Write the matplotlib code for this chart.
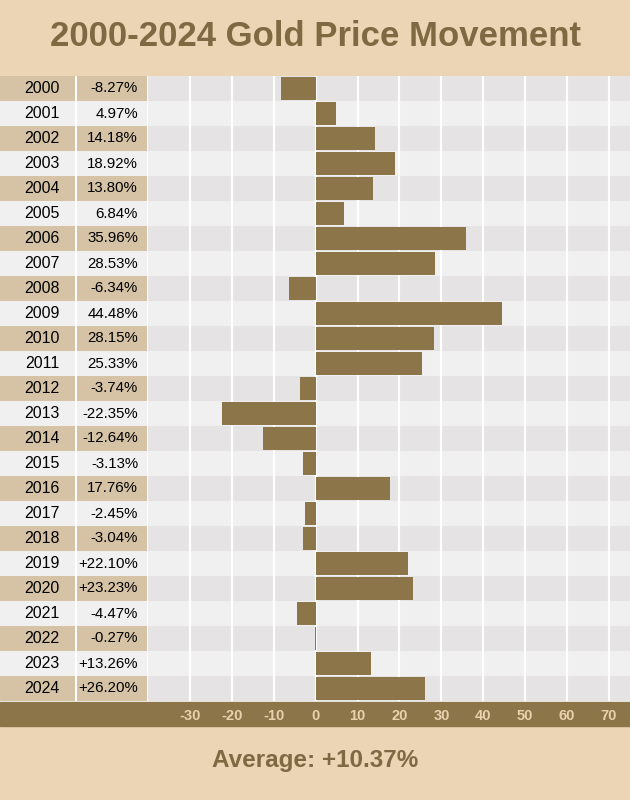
import matplotlib

matplotlib.use("Agg")
import matplotlib.pyplot as plt
from matplotlib.patches import Rectangle

years = list(range(2000, 2025))
changes = [-8.27, 4.97, 14.18, 18.92, 13.80, 6.84, 35.96, 28.53, -6.34, 44.48,
           28.15, 25.33, -3.74, -22.35, -12.64, -3.13, 17.76, -2.45, -3.04, 22.10,
           23.23, -4.47, -0.27, 13.26, 26.20]
change_labels = ["-8.27%", "4.97%", "14.18%", "18.92%", "13.80%", "6.84%", "35.96%",
                 "28.53%", "-6.34%", "44.48%", "28.15%", "25.33%", "-3.74%", "-22.35%",
                 "-12.64%", "-3.13%", "17.76%", "-2.45%", "-3.04%", "+22.10%", "+23.23%",
                 "-4.47%", "-0.27%", "+13.26%", "+26.20%"]
xticks = [-30, -20, -10, 0, 10, 20, 30, 40, 50, 60, 70]
average_label = "Average: +10.37%"

GOLD = "#8b7549"
TITLE_COL = "#7d6a43"
HEADER_BG = "#ecd5b5"
CELL_TAN = "#d6c3a6"
LIGHT = "#f0f0f0"
STRIPE = "#e5e3e4"

plt.rcParams["font.family"] = ["Liberation Sans", "DejaVu Sans"]
plt.rcParams["axes.unicode_minus"] = False

W, H = 630, 800
fig = plt.figure(figsize=(W / 100, H / 100), dpi=100, facecolor="white")


def px(x0, y0, x1, y1):
    # pixel box (top-left origin) -> figure fraction rect
    return [x0 / W, 1 - y1 / H, (x1 - x0) / W, (y1 - y0) / H]


# header / footer / axis band (behind the axes)
for y0, y1, col in [(0, 75, HEADER_BG), (727, 800, HEADER_BG), (702, 726, GOLD)]:
    b = px(0, y0, W, y1)
    fig.patches.append(Rectangle((b[0], b[1]), b[2], b[3], transform=fig.transFigure,
                                 color=col, zorder=-5))

fig.text(0.5, 1 - 37 / H, "2000-2024 Gold Price Movement", ha="center", va="center",
         fontsize=25, fontweight="bold", color=TITLE_COL)
fig.text(0.5, 1 - 760 / H, average_label, ha="center", va="center",
         fontsize=17.5, fontweight="bold", color=TITLE_COL)

n = len(years)
rows = list(range(n))

# table on the left
tax = fig.add_axes(px(0, 76, 148, 701))
tax.set_xlim(0, 148)
tax.set_ylim(n - 0.5, -0.5)
tax.axis("off")
cell_cols = [CELL_TAN if i % 2 == 0 else LIGHT for i in rows]
tax.barh(rows, 75, left=0, height=1.0, color=cell_cols)
tax.barh(rows, 70, left=77, height=1.0, color=cell_cols)
for i in rows:
    tax.text(42, i, str(years[i]), ha="center", va="center", fontsize=11.5, color="black")
    tax.text(138, i, change_labels[i], ha="right", va="center", fontsize=10.8, color="black")

# bar chart
ax = fig.add_axes(px(148, 76, 630, 701))
ax.set_xlim(-40, 75)
ax.set_ylim(n - 0.5, -0.5)
for i in rows:
    ax.axhspan(i - 0.5, i + 0.5, color=STRIPE if i % 2 == 0 else LIGHT, lw=0, zorder=0)
for t in xticks:
    ax.axvline(t, color="white", lw=1.6, zorder=1)
ax.barh(rows, changes, height=0.9, color=GOLD, zorder=2)
for s in ax.spines.values():
    s.set_visible(False)
ax.set_yticks([])
ax.set_xticks(xticks)
ax.tick_params(axis="x", length=0, pad=5.5, labelcolor="#e9d1ae")
for lab in ax.get_xticklabels():
    lab.set_fontweight("bold")
    lab.set_fontsize(10.5)

fig.savefig("out.png", dpi=100, facecolor="white")
